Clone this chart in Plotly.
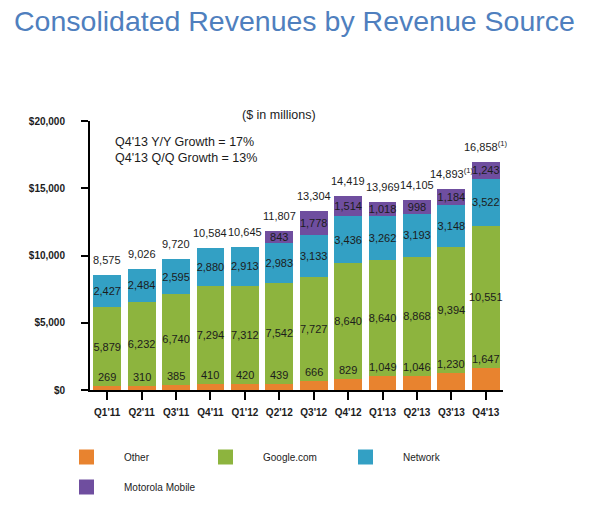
import plotly.graph_objects as go

quarters = ["Q1'11", "Q2'11", "Q3'11", "Q4'11", "Q1'12", "Q2'12",
            "Q3'12", "Q4'12", "Q1'13", "Q2'13", "Q3'13", "Q4'13"]
other = [269, 310, 385, 410, 420, 439, 666, 829, 1049, 1046, 1230, 1647]
google = [5879, 6232, 6740, 7294, 7312, 7542, 7727, 8640, 8640, 8868, 9394, 10551]
network = [2427, 2484, 2595, 2880, 2913, 2983, 3133, 3436, 3262, 3193, 3148, 3522]
motorola = [0, 0, 0, 0, 0, 843, 1778, 1514, 1018, 998, 1184, 1243]
totals = [8575, 9026, 9720, 10584, 10645, 11807, 13304, 14419, 13969, 14105, 14893, 16858]
footnote = [False] * 10 + [True, True]
y_ticks = [0, 5000, 10000, 15000, 20000]
y_tick_labels = ["$0", "$5,000", "$10,000", "$15,000", "$20,000"]

C_OTHER = "#E8832F"
C_GOOGLE = "#8DB43E"
C_NETWORK = "#33A0C4"
C_MOTO = "#6F4E9F"
TXT = "#1c1c1c"
FONT = "Liberation Sans, Arial, sans-serif"

W, H = 590, 507
ML, MR, MT, MB = 90, 87, 121, 117
PW, PH = W - ML - MR, H - MT - MB


def px(x):
    return (x - ML) / PW


def py(y):
    return (H - MB - y) / PH


fig = go.Figure()
series = [("Other", other, C_OTHER, False),
          ("Google.com", google, C_GOOGLE, True),
          ("Network", network, C_NETWORK, True),
          ("Motorola Mobile", motorola, C_MOTO, True)]
for name, vals, col, show_txt in series:
    xs = [q for q, v in zip(quarters, vals) if v]
    ys = [v for v in vals if v]
    fig.add_trace(go.Bar(
        x=xs, y=ys, name=name,
        marker=dict(color=col, line=dict(width=0)),
        text=[f"{v:,}" for v in ys] if show_txt else None,
        textposition="inside" if show_txt else "none",
        insidetextanchor="middle",
        textangle=0,
        textfont=dict(family=FONT, size=11, color=TXT),
        showlegend=False,
    ))

annotations = []
# Other labels just above the orange segment
for q, v in zip(quarters, other):
    annotations.append(dict(x=q, y=v, xref="x", yref="y", text=f"{v:,}",
                            showarrow=False, yanchor="bottom", yshift=1,
                            font=dict(size=11, color=TXT)))
# totals above bars
for i, q in enumerate(quarters):
    top = other[i] + google[i] + network[i] + motorola[i]
    t = f"{totals[i]:,}" + ("<sup>(1)</sup>" if footnote[i] else "")
    annotations.append(dict(x=q, y=top, xref="x", yref="y", text=t,
                            showarrow=False, yanchor="bottom", yshift=7,
                            font=dict(size=11, color=TXT)))

# title and notes
annotations.append(dict(x=px(12), y=py(21), xref="paper", yref="paper",
                        text="Consolidated Revenues by Revenue Source",
                        showarrow=False, xanchor="left", yanchor="middle",
                        font=dict(size=28.5, color="#4F7FBE")))
annotations.append(dict(x=px(279), y=py(115), xref="paper", yref="paper",
                        text="($ in millions)", showarrow=False,
                        xanchor="center", yanchor="middle",
                        font=dict(size=12.5, color=TXT)))
annotations.append(dict(x=px(113), y=py(150), xref="paper", yref="paper",
                        text="Q4'13 Y/Y Growth = 17%<br>Q4'13 Q/Q Growth = 13%",
                        showarrow=False, xanchor="left", yanchor="middle",
                        align="left",
                        font=dict(size=12.5, color=TXT)))

# manual legend
shapes = []
legend_pos = [(79, 457), (218, 457), (358, 457), (79, 487)]
for (name, vals, col, _), (lx, ly) in zip(series, legend_pos):
    shapes.append(dict(type="rect", xref="paper", yref="paper",
                       x0=px(lx), x1=px(lx + 15), y0=py(ly - 7.5), y1=py(ly + 7.5),
                       fillcolor=col, line=dict(width=0)))
    annotations.append(dict(x=px(lx + 43), y=py(ly), xref="paper", yref="paper",
                            text=name, showarrow=False, xanchor="left",
                            yanchor="middle", font=dict(size=10, color=TXT)))

fig.update_layout(
    width=W, height=H,
    margin=dict(l=ML, r=MR, t=MT, b=MB),
    paper_bgcolor="white", plot_bgcolor="white",
    barmode="stack", bargap=0.19,
    font=dict(family=FONT, color=TXT),
    uniformtext=dict(minsize=11, mode="show"),
    annotations=annotations, shapes=shapes,
    showlegend=False,
)
fig.update_xaxes(categoryorder="array", categoryarray=quarters,
                 range=[-0.5, 11.5], showline=True, linecolor="black", linewidth=2,
                 ticks="outside", ticklen=8, tickcolor="black", tickwidth=1.5,
                 tickfont=dict(size=10, color=TXT, weight="bold"),
                 ticklabelstandoff=4,
                 showgrid=False, zeroline=False, fixedrange=True)
fig.update_yaxes(range=[0, 20000], tickvals=y_ticks, ticktext=y_tick_labels,
                 showline=True, linecolor="black", linewidth=2,
                 ticks="outside", ticklen=7, tickcolor="black", tickwidth=1.5,
                 tickfont=dict(size=10, color=TXT, weight="bold"),
                 ticklabelstandoff=14,
                 showgrid=False, zeroline=False, fixedrange=True)

fig.write_html("out.html")
